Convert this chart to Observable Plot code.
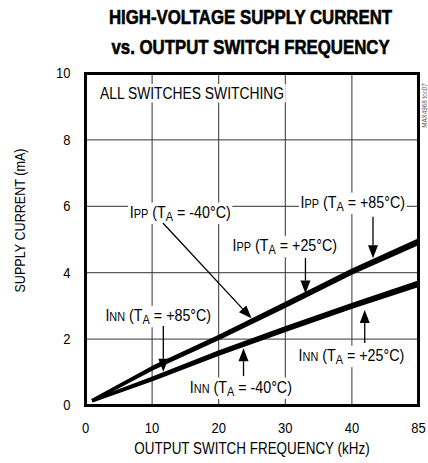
<!DOCTYPE html>
<html><head><meta charset="utf-8">
<script src="https://cdn.jsdelivr.net/npm/d3@7"></script>
<script src="https://cdn.jsdelivr.net/npm/@observablehq/plot@0.6"></script>
<style>
html,body{margin:0;padding:0;background:#fff;}
body{width:428px;height:463px;overflow:hidden;font-family:"Liberation Sans",Arial,sans-serif;}
#title{height:62px;box-sizing:border-box;padding-top:2px;padding-left:74px;text-align:center;font-weight:bold;font-size:20px;line-height:30px;color:#000;}
#title span{display:inline-block;transform:scaleX(0.84);white-space:nowrap;-webkit-text-stroke:0.6px #000;}
svg{display:block;}
</style>
</head><body>
<div id="title"><span>HIGH-VOLTAGE SUPPLY CURRENT</span><br><span>vs. OUTPUT SWITCH FREQUENCY</span></div>
<div id="chart"></div>
<script>
// ---- data ----
const freq = [1, 10, 20, 30, 40, 85];            // kHz
const ippM40 = [0.14, 1.09, 2.01, 2.98, 3.98, 4.87];
const ipp25  = [0.15, 1.12, 2.05, 3.03, 4.03, 4.93];
const ipp85  = [0.16, 1.15, 2.09, 3.08, 4.08, 4.99];
const innM40 = [0.13, 0.77, 1.54, 2.25, 2.95, 3.61];
const inn25  = [0.14, 0.80, 1.58, 2.30, 3.00, 3.67];
const inn85  = [0.15, 0.83, 1.62, 2.35, 3.05, 3.73];
const xTicks = [0, 10, 20, 30, 40, 85];
const yTicks = [0, 2, 4, 6, 8, 10];
const xLabel = "OUTPUT SWITCH FREQUENCY (kHz)";
const yLabel = "SUPPLY CURRENT (mA)";
const note = "ALL SWITCHES SWITCHING";
const sideNote = "MAX4968 toc07";
// annotations: label position, and arrow from -> to (data units)
const annLabels = [
  {main:"I", sub:"PP", temp:"-40°C", x:14.3, y:5.82},
  {main:"I", sub:"PP", temp:"+85°C", x:40.9, y:6.12},
  {main:"I", sub:"PP", temp:"+25°C", x:30.0, y:4.82},
  {main:"I", sub:"NN", temp:"+85°C", x:11.0, y:2.71},
  {main:"I", sub:"NN", temp:"-40°C", x:23.4, y:0.55},
  {main:"I", sub:"NN", temp:"+25°C", x:40.0, y:1.51}
];
const arrows = [
  {x1:11.7, y1:5.48, x2:25.0, y2:2.61},
  {x1:54.6, y1:5.67, x2:54.6, y2:4.42},
  {x1:33.1, y1:4.43, x2:33.1, y2:3.36},
  {x1:11.76, y1:2.38, x2:11.76, y2:1.0},
  {x1:23.8, y1:0.87, x2:23.8, y2:1.71},
  {x1:49.0, y1:1.87, x2:49.0, y2:2.86}
];

const series = [];
const groups = [["IPP -40", ippM40],["IPP 25", ipp25],["IPP 85", ipp85],["INN -40", innM40],["INN 25", inn25],["INN 85", inn85]];
for (const [name, vals] of groups) freq.forEach((f,i)=>series.push({name, f, v: vals[i]}));

const W = 428, H = 401;
const mL = 85, mR = 10, mT = 11, mB = 58;
const fw = W - mL - mR;
const FONT = '"Liberation Sans",Arial,sans-serif';
const K = 0.84; // horizontal condensing of the type

const plot = Plot.plot({
  width: W, height: H,
  marginLeft: mL, marginRight: mR, marginTop: mT, marginBottom: mB,
  style: {fontFamily: FONT, fontSize: "15px", background: "#fff", color: "#000", overflow: "visible"},
  x: {type: "linear", domain: [0, 40, 85], range: [mL, mL + fw * 0.8, mL + fw]},
  y: {domain: [0, 10]},
  marks: [
    Plot.gridX([10, 20, 30, 40], {stroke: "#333", strokeOpacity: 1, strokeWidth: 1}),
    Plot.gridY([2, 4, 6, 8], {stroke: "#333", strokeOpacity: 1, strokeWidth: 1}),
    Plot.axisX(xTicks, {tickSize: 0, tickPadding: 16, label: null, fontSize: 15.5}),
    Plot.axisY(yTicks, {tickSize: 0, tickPadding: 15, label: null, fontSize: 15.5}),
    Plot.line(series, {x: "f", y: "v", z: "name", stroke: "#000", strokeWidth: 2.7, strokeLinecap: "butt"}),
    Plot.text([xLabel], {frameAnchor: "bottom", dy: 48, fontSize: 16, textAnchor: "middle", text: d => d}),
    Plot.text([yLabel], {frameAnchor: "left", dx: -65, dy: -19, rotate: -90, fontSize: 15, textAnchor: "middle", text: d => d}),
    Plot.text([sideNote], {frameAnchor: "top-right", dx: 3.5, dy: 32, rotate: -90, fontSize: 7.5, fill: "#555", textAnchor: "middle", text: d => d}),
    Plot.frame({stroke: "#000", strokeWidth: 3})
  ]
});
document.getElementById("chart").appendChild(plot);

const sx = plot.scale("x"), sy = plot.scale("y");
const svg = d3.select(plot);
const g = svg.append("g").attr("font-family", FONT).attr("fill", "#000");

function place(t, x, y) {
  t.attr("transform", `translate(${x},${y}) scale(${K},1)`);
}
function addBg(t, padX, padY) {
  const b = t.node().getBBox();
  g.insert("rect", () => t.node())
    .attr("transform", t.attr("transform"))
    .attr("x", b.x - padX).attr("y", b.y - padY)
    .attr("width", b.width + 2*padX).attr("height", b.height + 2*padY)
    .attr("fill", "#fff");
}

// condense Plot's own texts
svg.selectAll("text").each(function() {
  const tr = this.getAttribute("transform");
  if (tr) this.setAttribute("transform", tr + ` scale(${K},1)`);
  else {
    const x = +this.getAttribute("x") || 0, y = +this.getAttribute("y") || 0;
    this.removeAttribute("x"); this.removeAttribute("y");
    this.setAttribute("transform", `translate(${x},${y}) scale(${K},1)`);
  }
});

// note
const tn = g.append("text").attr("text-anchor", "start").attr("dy", "0.36em")
  .attr("font-size", 16.5).text(note);
place(tn, sx.apply(2.25), sy.apply(9.39));
addBg(tn, 2, 0);

for (const a of annLabels) {
  const t = g.append("text").attr("text-anchor", "middle").attr("font-size", 17);
  t.append("tspan").text(a.main);
  t.append("tspan").attr("font-size", 13).text(a.sub);
  t.append("tspan").text(" (T");
  t.append("tspan").attr("font-size", 13).attr("dy", 3).text("A");
  t.append("tspan").attr("dy", -3).text(" = " + a.temp + ")");
  place(t, sx.apply(a.x), sy.apply(a.y) + 6);
  addBg(t, 2, 0);
}

for (const a of arrows) {
  const x1 = sx.apply(a.x1), y1 = sy.apply(a.y1), x2 = sx.apply(a.x2), y2 = sy.apply(a.y2);
  const dx = x2 - x1, dy = y2 - y1, L = Math.hypot(dx, dy);
  const ux = dx / L, uy = dy / L, hl = 13, hw = 5;
  const bx = x2 - ux * hl, by = y2 - uy * hl;
  g.append("line").attr("x1", x1).attr("y1", y1).attr("x2", bx).attr("y2", by)
    .attr("stroke", "#000").attr("stroke-width", 1.3);
  g.append("path").attr("d", `M${x2},${y2}L${bx - uy*hw},${by + ux*hw}L${bx + uy*hw},${by - ux*hw}Z`)
    .attr("fill", "#000");
}
</script>
</body></html>
